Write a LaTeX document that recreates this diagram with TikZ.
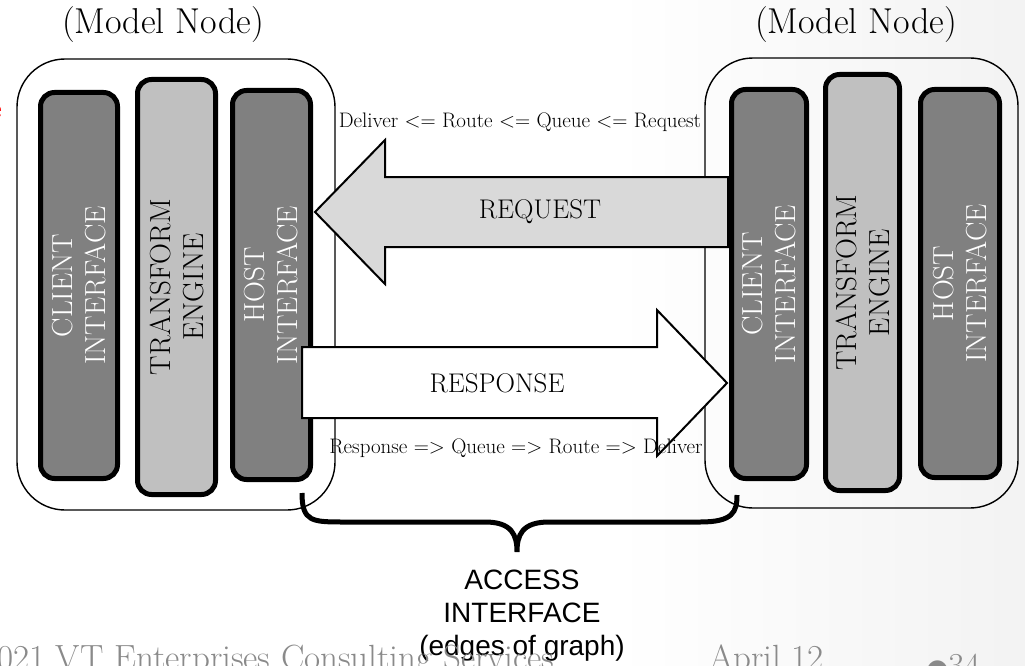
\documentclass[tikz,border=0pt]{standalone}
\usepackage{fontspec}
\newfontfamily\accessfont{Liberation Sans}
\newfontfamily\dotfont{DejaVu Sans}
\definecolor{partdark}{HTML}{808080}
\definecolor{partlight}{HTML}{C0C0C0}
\definecolor{reqfill}{HTML}{D9D9D9}
\definecolor{footgray}{HTML}{8A8A8A}
\pgfdeclarehorizontalshading{slidebg}{100bp}{color(0bp)=(white); color(55bp)=(white); color(100bp)=(black!11)}
\begin{document}
\begin{tikzpicture}[x=1pt,y=-1pt,
	modelbox/.style={draw,line width=1.4pt,rounded corners=48pt,inner sep=0},
	part/.style={draw,line width=5pt,rounded corners=14pt,inner sep=0},
	darkpart/.style={part,fill=partdark},
	lightpart/.style={part,fill=partlight},
	partlabel/.style={rotate=90,align=center,font=\fontsize{29}{33}\selectfont},
	blockarrow/.style={draw,line width=2pt,line join=miter},
	flowlabel/.style={font=\fontsize{27}{32}\selectfont},
	steplabel/.style={anchor=base,inner sep=0,font=\fontsize{21}{25}\selectfont},
	title/.style={font=\fontsize{36}{42}\selectfont},
	footer/.style={anchor=base west,inner sep=0,text=footgray,font=\fontsize{35}{42}\selectfont}]
	\useasboundingbox (0,0) rectangle (1025,666);
	\shade[shading=slidebg] (0,0) rectangle (1025,666);
	% model nodes
	\node[modelbox,minimum width=318pt,minimum height=451pt] (lmodel) at (176,284.5) {};
	\node[modelbox,minimum width=313pt,minimum height=450pt] (rmodel) at (861.5,283) {};
	\node[title] (ltitle) at (163,25) {(Model Node)};
	\node[title] (rtitle) at (856,25) {(Model Node)};
	\node[anchor=east,inner sep=0,text=red,font=\fontsize{30}{36}\selectfont] (cut) at (2,112) {e};
	% left parts
	\node[darkpart,minimum width=77pt,minimum height=386pt] (lclient) at (79,285.5) {};
	\node[lightpart,minimum width=78pt,minimum height=415pt] (ltrans) at (176.5,287) {};
	\node[darkpart,minimum width=78pt,minimum height=389pt] (lhost) at (271.5,285) {};
	\node[partlabel,text=white] at (lclient) {CLIENT\\INTERFACE};
	\node[partlabel] at (ltrans) {TRANSFORM\\ENGINE};
	\node[partlabel,text=white] at (lhost) {HOST\\INTERFACE};
	% right parts
	\node[darkpart,minimum width=75pt,minimum height=389pt] (rclient) at (769,284) {};
	\node[lightpart,minimum width=74pt,minimum height=416pt] (rtrans) at (862.5,282.5) {};
	\node[darkpart,minimum width=79pt,minimum height=388pt] (rhost) at (960,283.5) {};
	\node[partlabel,text=white] at (rclient) {CLIENT\\INTERFACE};
	\node[partlabel] at (rtrans) {TRANSFORM\\ENGINE};
	\node[partlabel,text=white] at (rhost) {HOST\\INTERFACE};
	% request and response
	\draw[blockarrow,fill=reqfill] (315,212) -- (385,140) -- (385,177) -- (728,177)
		-- (728,247) -- (385,247) -- (385,284) -- cycle;
	\draw[blockarrow,fill=white] (302,347) -- (657,347) -- (657,310) -- (727,383)
		-- (657,456) -- (657,418) -- (302,418) -- cycle;
	\node[flowlabel] (req) at (540,212) {REQUEST};
	\node[flowlabel] (resp) at (497,383) {RESPONSE};
	\node[steplabel] (reqsteps) at (520,128) {Deliver <= Route <= Queue <= Request};
	\node[steplabel] (respsteps) at (516,453) {Response => Queue => Route => Deliver};
	% access interface
	\draw[line width=5pt] (302,493) .. controls (302,522) and (312,522) .. (345,522) -- (485,522)
		.. controls (512,522) and (517,535) .. (517,552) .. controls (517,535) and (522,522) .. (549,522)
		-- (700,522) .. controls (733,522) and (737,512) .. (737,495);
	\node[align=center,inner sep=0,font=\accessfont\fontsize{28}{33}\selectfont] (access) at (522,616)
		{ACCESS\\INTERFACE\\(edges of graph)};
	% footer
	\node[footer] (foot) at (-3,669) {021 VT Enterprises Consulting Services};
	\node[footer] (date) at (709,669) {April 12};
	\node[footer] (page) at (926,677) {{\dotfont\fontsize{26}{30}\selectfont ●}34};
\end{tikzpicture}
\end{document}
